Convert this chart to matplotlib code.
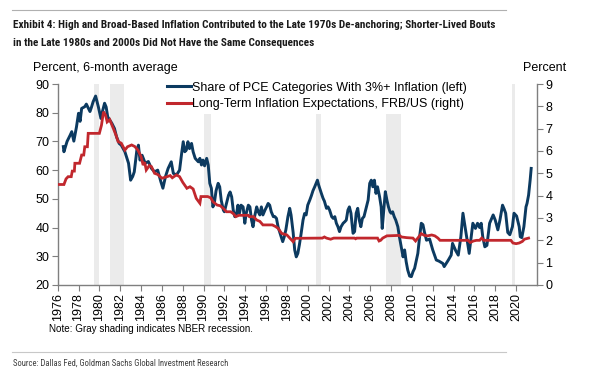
import numpy as np
import matplotlib
matplotlib.use("Agg")
import matplotlib.pyplot as plt
from matplotlib.lines import Line2D

# ---------------- data ----------------
share_years = [1976.54, 1976.6, 1976.9, 1977.2, 1977.35, 1977.55, 1977.8, 1978.0, 1978.15, 1978.3,
               1978.6, 1978.75, 1979.1, 1979.25, 1979.4, 1979.64, 1979.9, 1980.15, 1980.3, 1980.5,
               1980.65, 1980.8, 1981.2, 1981.45, 1981.65, 1981.9, 1982.1, 1982.45, 1982.8, 1983.0,
               1983.2, 1983.35, 1983.6, 1983.75, 1983.9, 1984.1, 1984.4, 1984.7, 1985.0, 1985.3,
               1985.6, 1985.9, 1986.1, 1986.35, 1986.6, 1986.9, 1987.1, 1987.4, 1987.7, 1987.9,
               1988.05, 1988.2, 1988.35, 1988.5, 1988.65, 1988.85, 1989.0, 1989.2, 1989.35, 1989.5,
               1989.65, 1989.8, 1989.95, 1990.1, 1990.3, 1990.45, 1990.6, 1990.75, 1990.9, 1991.05,
               1991.2, 1991.4, 1991.55, 1991.7, 1991.9, 1992.0, 1992.2, 1992.4, 1992.55, 1992.7,
               1992.85, 1993.0, 1993.15, 1993.3, 1993.45, 1993.6, 1993.8, 1993.96, 1994.1, 1994.3,
               1994.45, 1994.6, 1994.75, 1994.9, 1995.1, 1995.25, 1995.4, 1995.55, 1995.7, 1995.9,
               1996.05, 1996.2, 1996.35, 1996.5, 1996.7, 1996.85, 1997.0, 1997.15, 1997.3, 1997.45,
               1997.6, 1997.75, 1997.9, 1998.1, 1998.27, 1998.4, 1998.6, 1998.75, 1998.9, 1999.05,
               1999.2, 1999.35, 1999.55, 1999.7, 1999.85, 2000.0, 2000.2, 2000.35, 2000.5, 2000.67,
               2000.8, 2000.93, 2001.05, 2001.2, 2001.3, 2001.47, 2001.6, 2001.8, 2001.95, 2002.1,
               2002.3, 2002.45, 2002.6, 2002.75, 2002.9, 2003.05, 2003.2, 2003.4, 2003.55, 2003.7,
               2003.86, 2004.0, 2004.15, 2004.35, 2004.5, 2004.65, 2004.8, 2004.95, 2005.1, 2005.25,
               2005.4, 2005.6, 2005.8, 2005.95, 2006.1, 2006.25, 2006.4, 2006.55, 2006.7, 2006.9,
               2007.05, 2007.15, 2007.3, 2007.45, 2007.6, 2007.75, 2007.9, 2008.0, 2008.15, 2008.3,
               2008.45, 2008.65, 2008.8, 2008.98, 2009.15, 2009.3, 2009.45, 2009.6, 2009.78, 2009.95,
               2010.1, 2010.26, 2010.4, 2010.57, 2010.74, 2010.9, 2011.06, 2011.2, 2011.4, 2011.7,
               2012.0, 2012.34, 2012.6, 2012.97, 2013.1, 2013.5, 2013.77, 2013.9, 2014.2, 2014.45,
               2014.7, 2014.9, 2015.1, 2015.35, 2015.5, 2015.85, 2016.1, 2016.3, 2016.5, 2016.65,
               2016.8, 2017.0, 2017.2, 2017.46, 2017.8, 2018.0, 2018.25, 2018.45, 2018.7, 2018.85,
               2019.0, 2019.2, 2019.4, 2019.65, 2019.8, 2020.05, 2020.3, 2020.4, 2020.55, 2020.75,
               2020.95, 2021.05, 2021.2, 2021.35, 2021.45]
share_values = [68.2, 66.4, 70.0, 72.2, 73.4, 70.1, 75.0, 79.8, 77.0, 81.5,
                82.1, 83.0, 80.4, 82.0, 83.8, 85.8, 82.1, 78.0, 80.5, 83.3,
                82.0, 78.6, 76.3, 74.5, 71.6, 69.3, 68.7, 66.4, 62.4, 56.5,
                57.8, 59.4, 67.0, 68.7, 63.5, 65.2, 62.4, 63.0, 60.6, 59.4,
                60.0, 56.0, 53.7, 57.8, 60.6, 62.9, 58.9, 58.3, 60.0, 65.9,
                69.9, 66.4, 67.0, 69.9, 67.5, 69.3, 66.4, 64.1, 63.5, 62.9,
                64.1, 61.8, 63.5, 61.5, 64.1, 61.8, 55.4, 53.7, 47.2, 48.9,
                52.8, 55.4, 54.2, 49.5, 46.1, 45.5, 48.4, 51.3, 52.4, 50.7,
                46.1, 43.8, 44.4, 47.8, 45.0, 47.8, 47.2, 41.5, 45.0, 47.8,
                47.2, 42.7, 40.3, 43.8, 47.2, 45.5, 44.4, 47.2, 44.4, 46.1,
                47.2, 48.4, 47.8, 45.5, 43.8, 43.8, 43.2, 40.3, 38.5, 36.8,
                35.1, 36.8, 39.2, 43.8, 46.7, 44.4, 38.3, 32.2, 29.8, 31.0,
                34.0, 37.5, 42.6, 44.9, 44.4, 47.8, 49.6, 51.1, 52.8, 54.2,
                55.4, 56.5, 54.8, 53.1, 52.0, 50.2, 49.2, 46.7, 47.2, 46.1,
                43.8, 43.2, 43.8, 41.5, 40.3, 38.6, 40.3, 41.5, 42.0, 42.6,
                46.1, 47.2, 45.0, 38.0, 38.6, 45.0, 46.7, 42.6, 40.3, 43.2,
                43.8, 46.7, 49.6, 55.4, 56.5, 54.2, 56.5, 51.9, 54.2, 50.7,
                47.2, 39.7, 46.1, 52.5, 49.6, 47.2, 45.5, 45.0, 45.5, 43.8,
                42.6, 40.3, 36.8, 33.3, 29.8, 32.2, 28.1, 25.2, 23.1, 22.9,
                24.6, 25.8, 28.1, 31.0, 36.8, 41.5, 41.0, 38.5, 35.6, 36.0,
                32.2, 28.7, 28.3, 27.5, 26.4, 28.7, 30.4, 34.5, 32.0, 30.4,
                36.8, 45.0, 40.3, 34.5, 31.0, 41.5, 39.7, 41.5, 40.0, 41.5,
                36.8, 33.3, 33.8, 41.5, 44.4, 42.6, 39.2, 42.6, 47.8, 46.5,
                45.0, 38.3, 37.5, 40.3, 45.0, 44.0, 40.3, 36.8, 36.5, 40.3,
                47.2, 48.4, 51.3, 56.5, 60.6]

expect_years = [1976.0, 1976.6, 1976.8, 1977.0, 1977.3, 1977.4, 1977.6, 1977.65, 1978.1, 1978.3,
                1978.5, 1978.6, 1978.85, 1978.93, 1980.0, 1980.2, 1980.4, 1980.6, 1980.75, 1981.0,
                1981.4, 1981.6, 1981.8, 1982.1, 1982.45, 1982.7, 1983.1, 1983.4, 1983.7, 1984.0,
                1984.2, 1984.35, 1984.5, 1984.8, 1985.0, 1985.3, 1985.6, 1986.0, 1986.5, 1986.8,
                1987.0, 1987.4, 1987.7, 1988.0, 1988.4, 1988.7, 1989.0, 1989.3, 1989.65, 1989.75,
                1990.4, 1990.7, 1990.9, 1991.3, 1991.6, 1991.9, 1992.2, 1992.6, 1992.85, 1993.1,
                1993.4, 1994.3, 1994.4, 1994.8, 1995.1, 1995.4, 1995.7, 1996.6, 1996.9, 1997.15,
                1997.5, 1998.0, 1998.6, 1998.8, 2001.4, 2001.6, 2001.8, 2002.2, 2002.5, 2004.5,
                2004.6, 2004.7, 2006.7, 2006.85, 2007.0, 2007.2, 2007.6, 2008.8, 2009.0, 2009.5,
                2010.1, 2010.35, 2010.6, 2010.9, 2011.2, 2011.5, 2011.9, 2012.2, 2012.5, 2012.7,
                2015.4, 2015.6, 2015.9, 2016.2, 2016.5, 2016.7, 2016.9, 2019.5, 2019.7, 2020.0,
                2020.3, 2020.6, 2020.8, 2021.2]
expect_values = [4.5, 4.5, 4.75, 4.85, 4.85, 5.1, 5.1, 5.45, 5.45, 5.82,
                 5.82, 6.19, 6.19, 6.79, 6.79, 7.15, 7.76, 7.6, 7.3, 7.4,
                 6.94, 6.7, 6.42, 6.35, 6.04, 6.19, 6.27, 6.2, 6.04, 5.75,
                 5.37, 5.5, 5.15, 5.35, 5.3, 5.0, 4.95, 4.78, 4.85, 4.9,
                 4.8, 4.93, 4.85, 4.6, 4.33, 4.4, 4.3, 3.88, 3.66, 3.96,
                 3.96, 3.9, 3.73, 3.58, 3.55, 3.43, 3.28, 3.28, 3.2, 3.06,
                 3.12, 3.12, 3.06, 3.06, 2.91, 2.85, 2.69, 2.69, 2.62, 2.54,
                 2.31, 2.24, 1.94, 2.09, 2.1, 2.15, 2.1, 2.05, 2.1, 2.1,
                 2.07, 2.1, 2.1, 1.97, 2.0, 2.1, 2.2, 2.22, 2.15, 2.12,
                 2.1, 1.97, 2.12, 2.3, 2.22, 2.2, 2.24, 2.2, 2.1, 2.0,
                 2.0, 1.9, 1.97, 2.0, 2.0, 2.1, 2.0, 2.0, 1.88, 1.85,
                 1.88, 1.95, 2.05, 2.1]

recession_starts = [1979.5, 1981.0, 1990.03, 2000.77, 2007.54, 2019.62]
recession_ends = [1980.0, 1982.36, 1990.67, 2001.3, 2008.98, 2019.94]

year_ticks = list(range(1976, 2022, 2))
left_ticks = [20, 30, 40, 50, 60, 70, 80, 90]
right_ticks = [0, 1, 2, 3, 4, 5, 6, 7, 8, 9]

title_line1 = "Exhibit 4: High and Broad-Based Inflation Contributed to the Late 1970s De-anchoring; Shorter-Lived Bouts"
title_line2 = "in the Late 1980s and 2000s Did Not Have the Same Consequences"
share_label = "Share of PCE Categories With 3%+ Inflation (left)"
expect_label = "Long-Term Inflation Expectations, FRB/US (right)"
note_text = "Note: Gray shading indicates NBER recession."
source_text = "Source: Dallas Fed, Goldman Sachs Global Investment Research"

# ---------------- style ----------------
BLUE = "#0c3a60"
RED = "#c1272d"
SPINE = "#7f7f7f"
SHADE = "#ebebeb"
NARROW = ['Roboto Condensed', 'Liberation Sans Narrow', 'Arial Narrow', 'Liberation Sans', 'DejaVu Sans']

plt.rcParams['font.family'] = ['Liberation Sans', 'DejaVu Sans']

fig = plt.figure(figsize=(6.06, 3.74), dpi=100)
ax = fig.add_axes([0.0952, 0.238, 0.886 - 0.0952, 0.7754 - 0.238])
ax2 = ax.twinx()

for s, e in zip(recession_starts, recession_ends):
    ax.axvspan(s, e, color=SHADE, lw=0, zorder=0)

ax.plot(share_years, share_values, color=BLUE, lw=2.1, zorder=3, solid_joinstyle='round')
ax2.plot(expect_years, expect_values, color=RED, lw=2.0, zorder=2, solid_joinstyle='miter')

ax.set_xlim(1976, 2022)
ax.set_ylim(20, 90)
ax2.set_ylim(0, 9)
ax.set_yticks(left_ticks)
ax2.set_yticks(right_ticks)
ax.set_xticks(year_ticks)
ax.set_xticklabels([str(y) for y in year_ticks], rotation=90)

for a in (ax, ax2):
    a.spines['top'].set_visible(False)
    for sp in a.spines.values():
        sp.set_color(SPINE)
        sp.set_linewidth(1.0)
ax.spines['right'].set_visible(False)
ax2.spines['left'].set_visible(False)
ax2.spines['bottom'].set_visible(False)

ax.tick_params(axis='both', which='both', direction='out', length=4, width=0.8, color=SPINE,
               labelsize=9, labelcolor='black', pad=2)
ax2.tick_params(axis='y', direction='out', length=4, width=0.8, color=SPINE,
                labelsize=9, labelcolor='black', pad=2)

# legend (on top axes so it hides the shading behind it)
handles = [Line2D([], [], color=BLUE, lw=2.2), Line2D([], [], color=RED, lw=2.2)]
leg = ax2.legend(handles, [share_label, expect_label], loc='upper left',
                 bbox_to_anchor=(0.22, 1.03), frameon=True, fontsize=9,
                 handlelength=1.9, handletextpad=0.1, labelspacing=0.35,
                 borderpad=0.3, borderaxespad=0)
leg.get_frame().set_facecolor('white')
leg.get_frame().set_edgecolor('none')
leg.get_frame().set_alpha(1)
leg.set_zorder(5)

# axis titles
fig.text(33 / 606, 1 - 68 / 374, "Percent, 6-month average", fontsize=9, va='center', ha='left')
fig.text(545 / 606, 1 - 68 / 374, "Percent", fontsize=9, va='center', ha='center')

# title & rules
fig.add_artist(Line2D([12 / 606, 506 / 606], [1 - 9.5 / 374] * 2, color='#b0b0b0', lw=0.8))
t1 = fig.text(13 / 606, 1 - 28.3 / 374, title_line1, fontsize=10, fontweight='bold',
              family=NARROW, va='baseline', ha='left', color='#1a1a1a')
t2 = fig.text(13 / 606, 1 - 46 / 374, title_line2, fontsize=10, fontweight='bold',
              family=NARROW, va='baseline', ha='left', color='#1a1a1a')
note = fig.text(49 / 606, 1 - 332.3 / 374, note_text, fontsize=7.1, va='baseline', ha='left')
fig.add_artist(Line2D([12 / 606, 506 / 606], [1 - 352 / 374] * 2, color='#c8c8c8', lw=0.8))
source = fig.text(13 / 606, 1 - 366 / 374, source_text, fontsize=6.2, family=NARROW,
                  va='baseline', ha='left', color='#404040')

# fit title width to the reference width
renderer = fig.canvas.get_renderer()
for _ in range(4):
    w = t1.get_window_extent(renderer).width
    t1.set_fontsize(t1.get_fontsize() * 484.0 / w)
t2.set_fontsize(t1.get_fontsize())

fig.savefig("out.png", dpi=100)
